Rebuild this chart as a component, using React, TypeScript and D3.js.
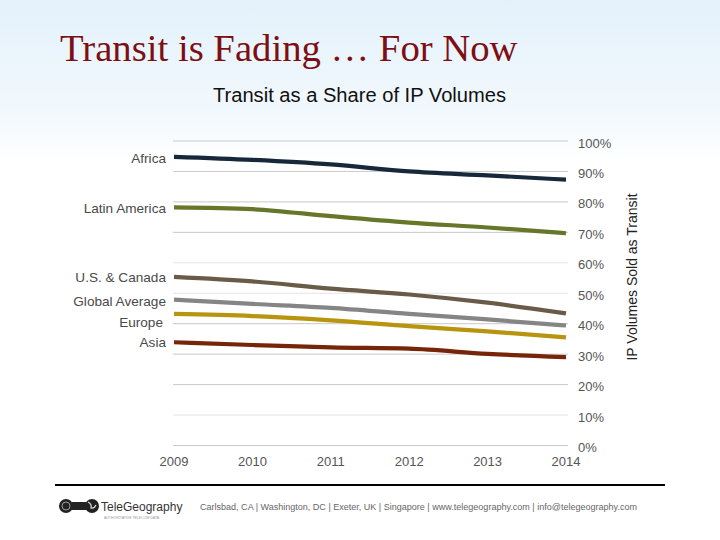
import React from "react";
import * as d3 from "d3";

const years = [2009, 2010, 2011, 2012, 2013, 2014];
const regions = ["Africa", "Latin America", "U.S. & Canada", "Global Average", "Europe", "Asia"];
const africa = [94.8, 93.8, 92.3, 90.0, 88.7, 87.3];
const latinAmerica = [78.2, 77.6, 75.3, 73.2, 71.6, 69.7];
const usCanada = [55.4, 53.9, 51.5, 49.6, 46.9, 43.4];
const globalAverage = [47.9, 46.5, 45.2, 43.2, 41.4, 39.4];
const europe = [43.2, 42.5, 41.1, 39.2, 37.5, 35.5];
const asia = [33.9, 33.0, 32.2, 31.8, 30.1, 29.0];
const yTicks = [0, 10, 20, 30, 40, 50, 60, 70, 80, 90, 100];

const seriesValues = [africa, latinAmerica, usCanada, globalAverage, europe, asia];
const colors = ["#17283a", "#66772a", "#6a5a48", "#858585", "#b8950f", "#772508"];
const labelNudge = [1, 1, 0, 2, 8, 0];
const labelRightNudge = [0, 0, 0, 0, 3, 0];

export default function App() {
  const x = d3.scaleLinear().domain([2009, 2014]).range([174, 566]);
  const y = d3.scaleLinear().domain([0, 100]).range([445.5, 141]);
  const line = d3
    .line<number>()
    .x((_, i) => x(years[i]))
    .y((v) => y(v))
    .curve(d3.curveMonotoneX);

  const sans = "'Liberation Sans', Arial, Helvetica, sans-serif";

  return (
    <svg
      width={720}
      height={540}
      style={{ position: "absolute", left: 0, top: 0, display: "block" }}
      xmlns="http://www.w3.org/2000/svg"
    >
      <defs>
        <linearGradient id="bg" x1="0" y1="0" x2="0" y2="1">
          <stop offset="0" stopColor="#e3f1fb" />
          <stop offset="0.22" stopColor="#f3f9fd" />
          <stop offset="0.3" stopColor="#ffffff" />
          <stop offset="1" stopColor="#ffffff" />
        </linearGradient>
      </defs>
      <rect x={0} y={0} width={720} height={540} fill="url(#bg)" />

      <text
        x={60}
        y={61}
        fontFamily="'Liberation Serif', 'Times New Roman', serif"
        fontSize={38.7}
        fill="#7d0f14"
      >
        Transit is Fading … For Now
      </text>
      <text
        x={359.5}
        y={102}
        textAnchor="middle"
        fontFamily={sans}
        fontSize={19.5}
        fill="#111"
        textLength={293}
        lengthAdjust="spacingAndGlyphs"
      >
        Transit as a Share of IP Volumes
      </text>

      {yTicks.map((t) => (
        <g key={t}>
          <line
            x1={173}
            x2={568}
            y1={y(t)}
            y2={y(t)}
            stroke={t === 50 || t === 60 || t === 10 ? "#e4e4e4" : "#c9c9c9"}
            strokeWidth={1}
          />
          <text
            x={578}
            y={y(t) + 6.5}
            fontFamily={sans}
            fontSize={13}
            fill="#555"
          >
            {t}%
          </text>
        </g>
      ))}

      {years.map((yr) => (
        <text
          key={yr}
          x={x(yr)}
          y={466}
          textAnchor="middle"
          fontFamily={sans}
          fontSize={13}
          fill="#555"
        >
          {yr}
        </text>
      ))}

      <text
        transform="translate(637,277) rotate(-90)"
        textAnchor="middle"
        fontFamily={sans}
        fontSize={14}
        fill="#222"
      >
        IP Volumes Sold as Transit
      </text>

      {seriesValues.map((vals, i) => (
        <path
          key={regions[i]}
          d={line(vals) || ""}
          fill="none"
          stroke={colors[i]}
          strokeWidth={4.2}
        />
      ))}

      {seriesValues.map((vals, i) => (
        <text
          key={regions[i] + "-label"}
          x={166 - labelRightNudge[i]}
          y={y(vals[0]) + labelNudge[i] + 4.8}
          textAnchor="end"
          fontFamily={sans}
          fontSize={13.6}
          fill="#4a4a4a"
        >
          {regions[i]}
        </text>
      ))}

      <line x1={55} x2={665} y1={485} y2={485} stroke="#000" strokeWidth={2} />
      <g>
        <circle cx={66} cy={506} r={7} fill="#222" />
        <circle cx={66} cy={506} r={4} fill="none" stroke="#999" strokeWidth={1} />
        <rect x={72} y={502} width={14} height={8} fill="#222" />
        <circle cx={92} cy={506} r={7} fill="#222" />
        <path d="M88,502 q4,2 3,6 q3,1 5,-3" fill="none" stroke="#ddd" strokeWidth={1.2} />
        <text x={101} y={511} fontFamily={sans} fontSize={12} fill="#333">
          TeleGeography
        </text>
        <text x={104} y={519} fontFamily={sans} fontSize={3.5} fill="#999">
          AUTHORITATIVE TELECOM DATA
        </text>
      </g>
      <text
        x={200}
        y={510}
        fontFamily={sans}
        fontSize={8.5}
        fill="#666"
        textLength={437}
        lengthAdjust="spacingAndGlyphs"
      >
        Carlsbad, CA | Washington, DC | Exeter, UK | Singapore | www.telegeography.com | info@telegeography.com
      </text>
    </svg>
  );
}
